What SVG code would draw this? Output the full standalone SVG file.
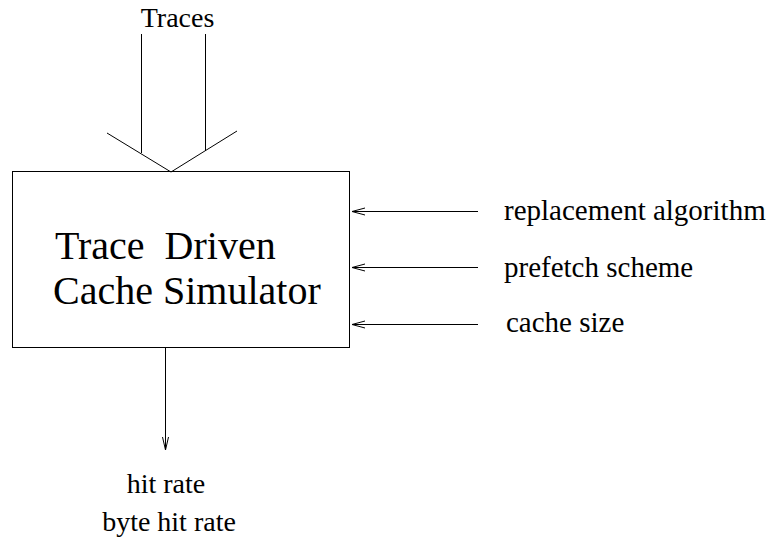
<svg xmlns="http://www.w3.org/2000/svg" width="768" height="542" viewBox="0 0 768 542">
<style>
.ln{stroke:#000;stroke-width:1;fill:none}
.t{font-family:"Liberation Serif",serif;font-size:28px;fill:#000}
.r{font-size:29px}
.s{font-family:"Liberation Serif",serif;font-size:40px;fill:#000;white-space:pre}
</style>
<rect width="768" height="542" fill="#fff"/>
<g id="simulator">
<rect class="ln" x="12.5" y="171.5" width="337" height="176"/>
<text class="s" x="55" y="259" xml:space="preserve">Trace  Driven</text>
<text class="s" x="53" y="304">Cache Simulator</text>
</g>
<g id="traces"><text class="t" x="177.5" y="27" text-anchor="middle">Traces</text></g>
<g id="replacement"><text class="t r" x="504" y="220">replacement algorithm</text></g>
<g id="prefetch"><text class="t r" x="504" y="277">prefetch scheme</text></g>
<g id="cachesize"><text class="t r" x="506" y="332">cache size</text></g>
<g id="output">
<text class="t" x="166" y="493" text-anchor="middle">hit rate</text>
<text class="t" x="169" y="531" text-anchor="middle">byte hit rate</text>
</g>
<g id="connectors">
<path class="ln" d="M141.5 34V153M205.5 34V151M107 133L171 172L237 131"/>
<path class="ln" d="M478 211.5H352M365 208L352 211.5L365 215"/>
<path class="ln" d="M478 267.5H352M365 264L352 267.5L365 271"/>
<path class="ln" d="M478 324.5H352M365 321L352 324.5L365 328"/>
<path class="ln" d="M165.5 348V450M162.5 437L165.5 450L168.5 437"/>
</g>
</svg>
